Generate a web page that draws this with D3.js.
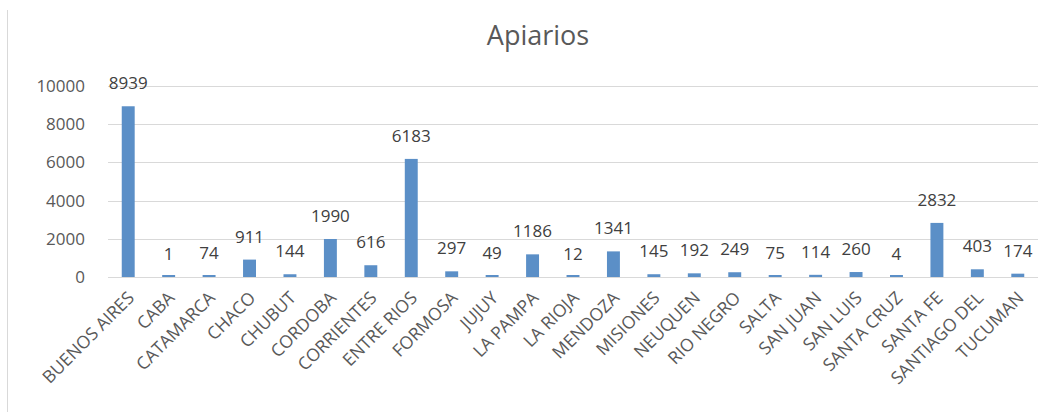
<!DOCTYPE html>
<html>
<head>
<meta charset="utf-8">
<script src="https://cdn.jsdelivr.net/npm/d3@7"></script>
<style>
  body { margin: 0; background: #fff; }
  text { font-family: "Open Sans", sans-serif; }
</style>
</head>
<body>
<div id="chart"></div>
<script>
const provincias = [
  "BUENOS AIRES", "CABA", "CATAMARCA", "CHACO", "CHUBUT", "CORDOBA",
  "CORRIENTES", "ENTRE RIOS", "FORMOSA", "JUJUY", "LA PAMPA", "LA RIOJA",
  "MENDOZA", "MISIONES", "NEUQUEN", "RIO NEGRO", "SALTA", "SAN JUAN",
  "SAN LUIS", "SANTA CRUZ", "SANTA FE", "SANTIAGO DEL", "TUCUMAN"
];
const apiarios = [
  8939, 1, 74, 911, 144, 1990, 616, 6183, 297, 49, 1186, 12,
  1341, 145, 192, 249, 75, 114, 260, 4, 2832, 403, 174
];
const yTicks = [0, 2000, 4000, 6000, 8000, 10000];

const width = 1056, height = 412;
const margin = { top: 86, right: 18, bottom: 135, left: 108 };

const svg = d3.select("#chart")
  .append("svg")
  .attr("width", width)
  .attr("height", height);

// chart frame edge
svg.append("line")
  .attr("x1", 7.5).attr("x2", 7.5)
  .attr("y1", 10).attr("y2", height)
  .attr("stroke", "#d9d9d9");

const data = provincias.map((p, i) => ({ name: p, value: apiarios[i] }));

const x = d3.scaleBand()
  .domain(provincias)
  .range([margin.left, width - margin.right])
  .paddingInner(0.68)
  .paddingOuter(0.34);

const y = d3.scaleLinear()
  .domain([0, 10000])
  .range([height - margin.bottom, margin.top]);

// gridlines
svg.append("g")
  .selectAll("line")
  .data(yTicks)
  .join("line")
  .attr("x1", margin.left)
  .attr("x2", width - margin.right)
  .attr("y1", d => Math.round(y(d)) + 0.5)
  .attr("y2", d => Math.round(y(d)) + 0.5)
  .attr("stroke", "#d9d9d9")
  .attr("stroke-width", 1);

// y axis labels
const yAxis = d3.axisLeft(y).tickValues(yTicks).tickFormat(d3.format("d"))
  .tickSize(0).tickPadding(0);
svg.append("g")
  .attr("transform", `translate(${margin.left - 23}, 0)`)
  .call(yAxis)
  .call(g => g.select(".domain").remove())
  .selectAll("text")
  .attr("font-size", 17)
  .attr("fill", "#595959")
  .attr("font-family", "Open Sans, sans-serif");

// bars (tiny values still get a sliver, like the original)
svg.append("g")
  .selectAll("rect")
  .data(data)
  .join("rect")
  .attr("x", d => x(d.name))
  .attr("width", x.bandwidth())
  .attr("y", d => Math.min(y(d.value), y(0) - 2))
  .attr("height", d => Math.max(y(0) - y(d.value), 2))
  .attr("fill", "#5b8fc7");

// data labels
svg.append("g")
  .selectAll("text")
  .data(data)
  .join("text")
  .attr("x", d => x(d.name) + x.bandwidth() / 2)
  .attr("y", d => y(d.value) - 17)
  .attr("text-anchor", "middle")
  .attr("font-size", 17)
  .attr("fill", "#404040")
  .text(d => d.value);

// x axis labels
const xAxis = d3.axisBottom(x).tickSize(0).tickPadding(0);
svg.append("g")
  .attr("transform", `translate(0, ${y(0)})`)
  .call(xAxis)
  .call(g => g.select(".domain").remove())
  .selectAll("text")
  .attr("font-size", 17.5)
  .attr("fill", "#595959")
  .attr("font-family", "Open Sans, sans-serif")
  .attr("text-anchor", "end")
  .attr("dy", null)
  .attr("transform", "translate(7, 22) rotate(-45)");

// title
svg.append("text")
  .attr("x", 538)
  .attr("y", 45)
  .attr("text-anchor", "middle")
  .attr("font-size", 27)
  .attr("fill", "#595959")
  .text("Apiarios");
</script>
</body>
</html>
